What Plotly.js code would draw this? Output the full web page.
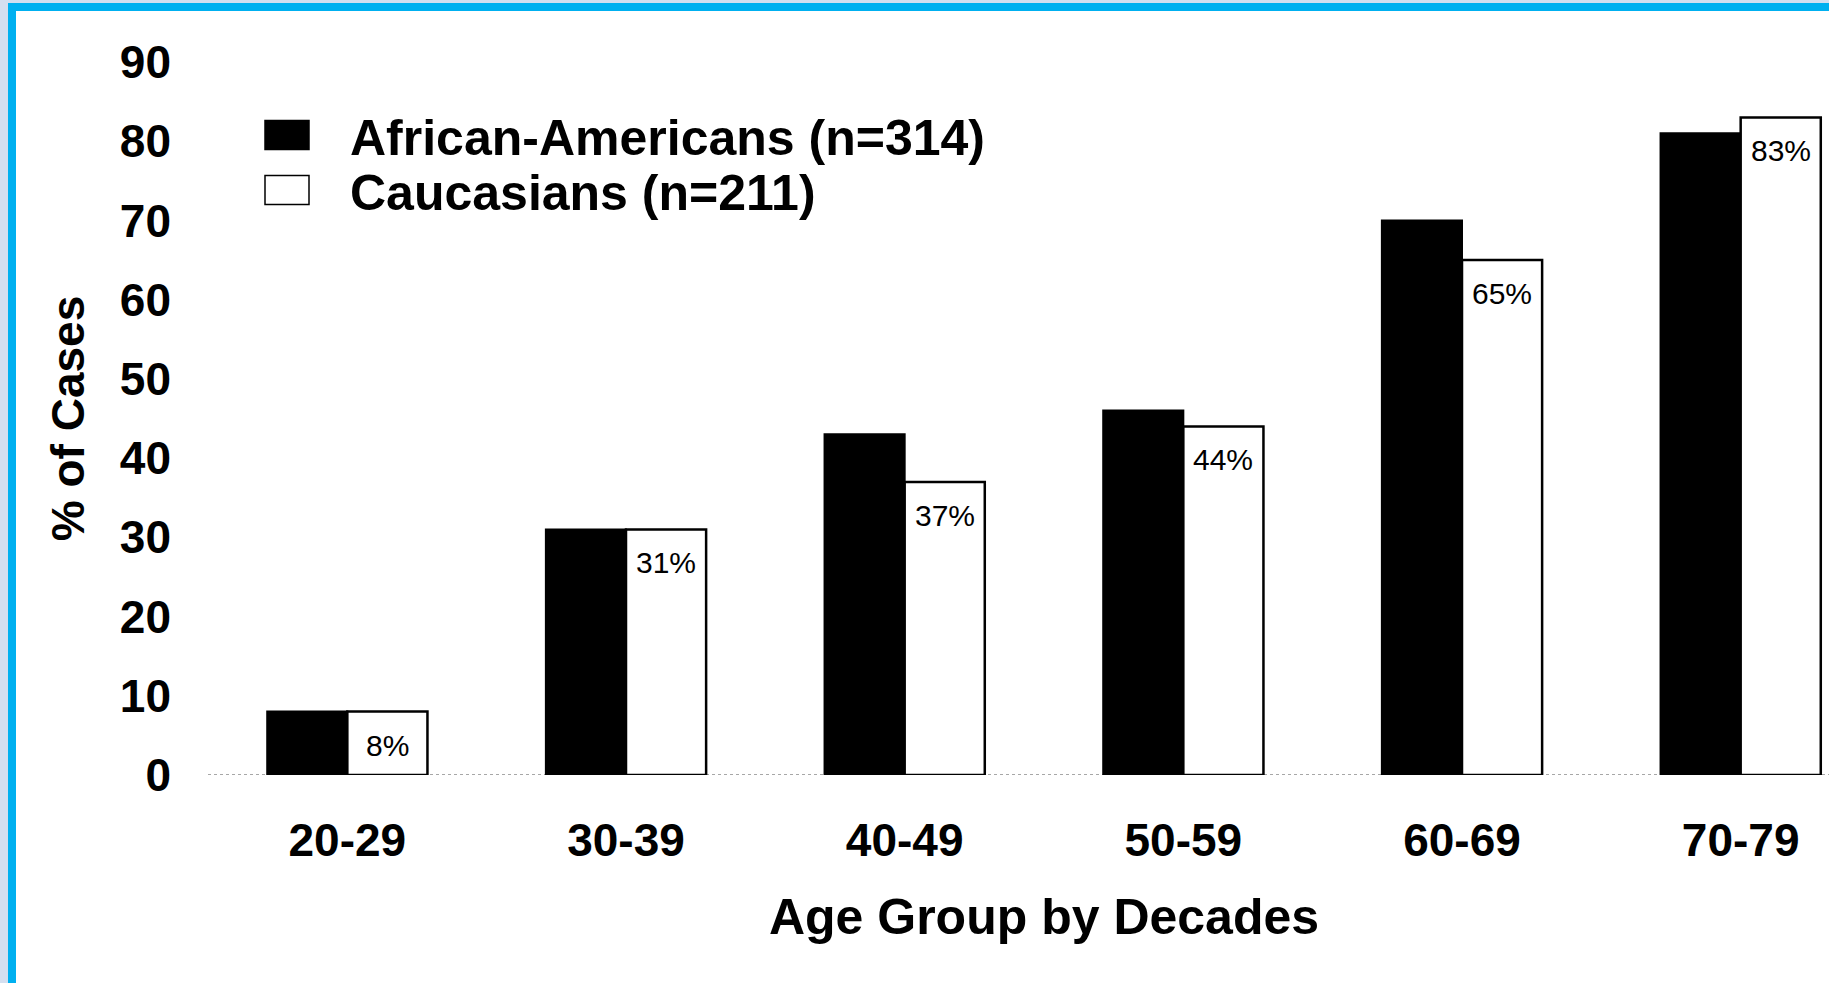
<!DOCTYPE html>
<html>
<head>
<meta charset="utf-8">
<script src="https://cdn.plot.ly/plotly-3.0.1.min.js"></script>
<style>
  html, body { margin: 0; padding: 0; width: 1829px; height: 983px; overflow: hidden; background: #d4dff0; }
  #frame { position: absolute; left: 8px; top: 3px; right: 0; bottom: 0; background: #ffffff;
           border-left: 8px solid #00b0f0; border-top: 8px solid #00b0f0; }
  /* the figure runs on past the right edge of the page and is clipped there */
  #chart { position: absolute; left: 0; top: 0; width: 1880px; height: 983px; }
</style>
</head>
<body>
<div id="frame"></div>
<div id="chart"></div>
<script>
// Percentage of cases per age decade, by group
const ageGroups = ['20-29', '30-39', '40-49', '50-59', '60-69', '70-79'];
const africanAmericans = [8, 31, 43, 46, 70, 81];
const caucasians = [8, 31, 37, 44, 65, 83];
const seriesNames = ['African-Americans (n=314)', 'Caucasians (n=211)'];
const yTickValues = [0, 10, 20, 30, 40, 50, 60, 70, 80, 90];

const W = 1880, H = 983;
const M = { l: 208, r: 0, t: 62, b: 208 };
const BARGAP = 0.425;
const FONT = 'Liberation Sans, Arial, Helvetica, sans-serif';

const plotW = W - M.l - M.r, plotH = H - M.t - M.b;
const paperX = px => (px - M.l) / plotW;
const paperY = py => (H - M.b - py) / plotH;

const traces = [
  {
    type: 'bar', name: seriesNames[0], x: ageGroups, y: africanAmericans,
    marker: { color: '#000000', line: { color: '#000000', width: 2 } },
    legend: 'legend', hoverinfo: 'x+y'
  },
  {
    type: 'bar', name: seriesNames[1], x: ageGroups, y: caucasians,
    marker: { color: '#ffffff', line: { color: '#000000', width: 2.5 } },
    legend: 'legend2', hoverinfo: 'x+y'
  }
];

// value labels just inside the top of each white bar
const valueLabels = caucasians.map((v, i) => ({
  xref: 'x', yref: 'y', x: i + (1 - BARGAP) / 4, y: v,
  text: v + '%', showarrow: false, yanchor: 'top', yshift: -15,
  font: { family: FONT, size: 30, color: '#000000' }
}));

const legendBase = {
  xref: 'paper', yref: 'paper', xanchor: 'left', yanchor: 'middle',
  x: paperX(224), itemwidth: 116, bgcolor: 'rgba(0,0,0,0)', borderwidth: 0,
  font: { family: FONT, size: 50, weight: 'bold', color: '#000000' }
};

const layout = {
  width: W, height: H,
  margin: { l: M.l, r: M.r, t: M.t, b: M.b, autoexpand: false },
  paper_bgcolor: 'rgba(0,0,0,0)', plot_bgcolor: 'rgba(0,0,0,0)',
  barmode: 'group', bargap: BARGAP, bargroupgap: 0,
  showlegend: true,
  legend: Object.assign({}, legendBase, { y: paperY(135) }),
  legend2: Object.assign({}, legendBase, { y: paperY(190) }),
  xaxis: {
    type: 'category', range: [-0.5, 5.5], fixedrange: true, automargin: false,
    showgrid: false, zeroline: false, showline: false, ticks: '',
    ticklabelstandoff: 34,
    tickfont: { family: FONT, size: 46, weight: 'bold', color: '#000000' },
    title: { text: 'Age Group by Decades', standoff: 33,
             font: { family: FONT, size: 50, weight: 'bold', color: '#000000' } }
  },
  yaxis: {
    range: [0, 90], fixedrange: true, tickvals: yTickValues, automargin: false,
    showgrid: false, zeroline: false, showline: false, ticks: '',
    ticklabelstandoff: 36,
    tickfont: { family: FONT, size: 46, weight: 'bold', color: '#000000' },
    title: { text: '% of Cases', standoff: 20,
             font: { family: FONT, size: 46, weight: 'bold', color: '#000000' } }
  },
  shapes: [
    { type: 'line', xref: 'paper', yref: 'y', x0: 0, x1: 1, y0: 0, y1: 0,
      layer: 'below', line: { color: '#8a8a8a', width: 1.5, dash: 'dot' } }
  ],
  annotations: valueLabels
};

const gd = document.getElementById('chart');

// enlarge the legend swatches to the size of the printed key boxes
function sizeLegendSwatches() {
  gd.querySelectorAll('g.legendpoints path').forEach(p => {
    p.setAttribute('d', 'M22,14.5H-22V-14.5H22Z');
    p.style.strokeWidth = '1.5px';
  });
}

Plotly.newPlot(gd, traces, layout, { displayModeBar: false, responsive: false }).then(() => {
  sizeLegendSwatches();
  gd.on('plotly_afterplot', sizeLegendSwatches);
});
</script>
</body>
</html>
